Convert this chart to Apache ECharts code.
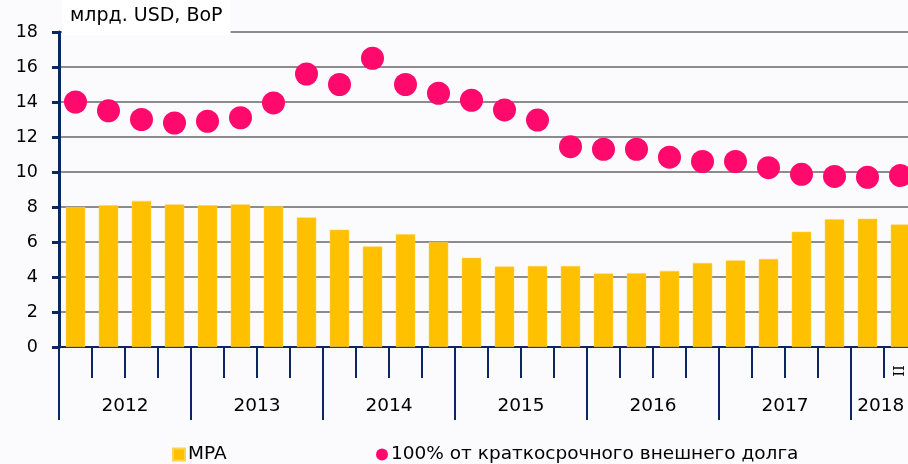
<!DOCTYPE html>
<html>
<head>
<meta charset="utf-8">
<script src="https://cdn.jsdelivr.net/npm/echarts@6/dist/echarts.min.js"></script>
<style>
html, body { margin: 0; padding: 0; background: #fbfbfe; }
#chart { width: 908px; height: 464px; }
</style>
</head>
<body>
<div id="chart"></div>
<script>
// quarters 2012 Q1 .. 2018 Q2
var quarters = ['I','II','III','IV','I','II','III','IV','I','II','III','IV','I','II','III','IV',
                'I','II','III','IV','I','II','III','IV','I','II'];
var years = ['2012','2013','2014','2015','2016','2017','2018'];

// MPA, bn USD
var mpa = [8.0, 8.1, 8.35, 8.15, 8.1, 8.15, 8.05, 7.4, 6.7, 5.75, 6.45, 6.0, 5.1,
           4.6, 4.63, 4.63, 4.2, 4.22, 4.35, 4.8, 4.95, 5.03, 6.58, 7.3, 7.33, 7.0];

// 100% of short-term external debt
var shortDebt = [14.0, 13.5, 13.0, 12.8, 12.9, 13.1, 13.95, 15.6, 15.0, 16.5, 15.0, 14.5, 14.1,
                 13.55, 12.97, 11.45, 11.3, 11.3, 10.85, 10.6, 10.6, 10.25, 9.87, 9.75, 9.7, 9.8];

var navy = '#0c2563';
var font = 'DejaVu Sans';

// boundaries between quarters (0..26) for the short ticks
var quarterEdges = quarters.map(function (q, i) { return i; }).concat([quarters.length]);

var myChart = echarts.init(document.getElementById('chart'));

var option = {
    backgroundColor: '#fbfbfe',
    textStyle: { fontFamily: font },
    animation: false,
    title: {
        text: 'млрд. USD, BoP',
        left: 62,
        top: 0,
        padding: [7, 8, 9, 8],
        backgroundColor: '#ffffff',
        textStyle: { fontFamily: font, fontSize: 19, fontWeight: 'normal', color: '#000' }
    },
    // plot runs a little past the right edge of the picture, as in the source
    grid: { left: 59, width: 858, top: 32, bottom: 117, outerBoundsMode: 'none' },
    legend: [{
        left: 167,
        top: 440,
        itemWidth: 12,
        itemHeight: 12,
        icon: 'rect',
        data: ['MPA'],
        textStyle: { fontFamily: font, fontSize: 18.5, color: '#000', padding: [0, 0, 0, -2] }
    }, {
        left: 371,
        top: 440,
        itemWidth: 12,
        itemHeight: 12,
        icon: 'circle',
        data: ['100% от краткосрочного внешнего долга'],
        textStyle: { fontFamily: font, fontSize: 18.5, color: '#000', padding: [0, 0, 0, -2] }
    }],
    xAxis: [{
        type: 'category',
        position: 'bottom',
        data: quarters,
        boundaryGap: true,
        axisLine: { lineStyle: { color: navy, width: 2 } },
        axisTick: { show: false },
        axisLabel: {
            interval: function (idx) { return idx === quarters.length - 1; },
            rotate: 90,
            margin: 18,
            fontFamily: 'DejaVu Serif',
            fontSize: 15,
            color: '#000'
        }
    }, {
        // year separators and year labels
        type: 'value',
        position: 'bottom',
        min: 0,
        max: quarters.length,
        axisLine: { show: false },
        splitLine: { show: false },
        axisTick: {
            show: true,
            length: 73,
            customValues: years.map(function (y, i) { return i * 4; }),
            lineStyle: { color: navy, width: 2 }
        },
        axisLabel: {
            customValues: years.map(function (y, i) { return Math.min(i * 4 + 2, quarters.length - 1.1); }),
            formatter: function (v) { return years[Math.floor(v / 4)]; },
            margin: 50,
            fontSize: 18.5,
            color: '#000'
        }
    }, {
        // short quarter ticks
        type: 'value',
        position: 'bottom',
        min: 0,
        max: quarters.length,
        axisLine: { show: false },
        splitLine: { show: false },
        axisTick: {
            show: true,
            length: 31,
            customValues: quarterEdges,
            lineStyle: { color: navy, width: 2 }
        },
        axisLabel: { show: false }
    }],
    yAxis: {
        type: 'value',
        min: 0,
        max: 18,
        interval: 2,
        axisLine: { show: true, lineStyle: { color: navy, width: 3 } },
        axisTick: { show: true, length: 7, lineStyle: { color: navy, width: 3 } },
        axisLabel: { fontSize: 17.5, color: '#000', margin: 21 },
        splitLine: { lineStyle: { color: '#8c8c8c', width: 2 } }
    },
    series: [{
        name: 'MPA',
        type: 'bar',
        data: mpa,
        barWidth: '59%',
        itemStyle: { color: '#ffc000', borderColor: '#ffd24d', borderWidth: 0.5 }
    }, {
        name: '100% от краткосрочного внешнего долга',
        type: 'scatter',
        data: shortDebt,
        symbolSize: 23,
        itemStyle: { color: '#ff0a6c', opacity: 1 }
    }]
};

myChart.setOption(option);
</script>
</body>
</html>
